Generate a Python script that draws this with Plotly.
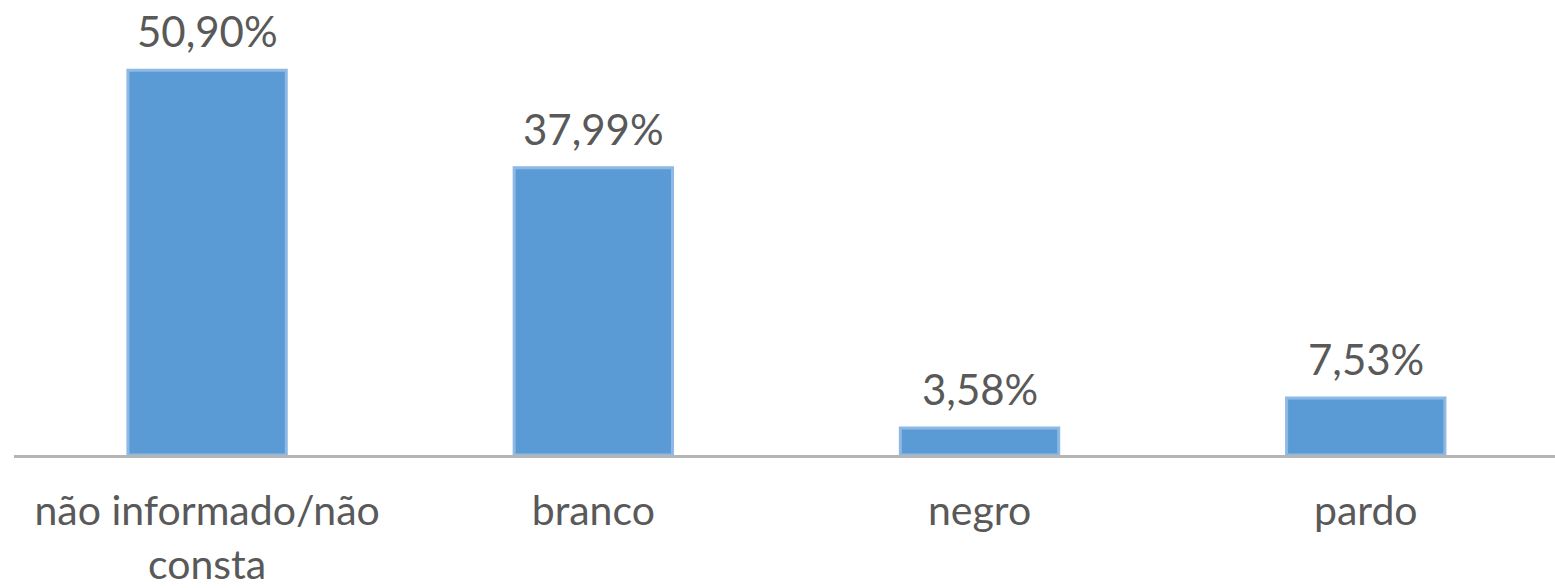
import plotly.graph_objects as go

categories = ["não informado/não<br>consta", "branco", "negro", "pardo"]
values = [50.90, 37.99, 3.58, 7.53]
labels = ["50,90%", "37,99%", "3,58%", "7,53%"]

FONT = "Lato"
TXT = "#595959"

fig = go.Figure()
fig.add_trace(go.Bar(
    x=categories, y=values, width=0.41,
    marker=dict(color="#5B9BD5", line=dict(color="#8DB9E4", width=3)),
    hoverinfo="skip",
))
for c, v, t in zip(categories, values, labels):
    fig.add_annotation(x=c, y=v, text=t, showarrow=False, yanchor="bottom",
                       yshift=12, font=dict(family=FONT, size=42, color=TXT))

fig.update_layout(
    width=1555, height=588,
    margin=dict(l=14, r=0, t=0, b=133),
    plot_bgcolor="white", paper_bgcolor="white",
    showlegend=False,
    xaxis=dict(range=[-0.5, 3.49], showline=True, linecolor="#B5B5B5", linewidth=3,
               ticks="", ticklabelstandoff=18, showgrid=False, automargin=False,
               tickfont=dict(family=FONT, size=41, color=TXT)),
    yaxis=dict(range=[0, 60.2], visible=False, showgrid=False, zeroline=False),
)
fig.write_html("out.html", config={"displayModeBar": False},
               post_script="document.body.style.margin='0';document.body.style.overflow='hidden';")
